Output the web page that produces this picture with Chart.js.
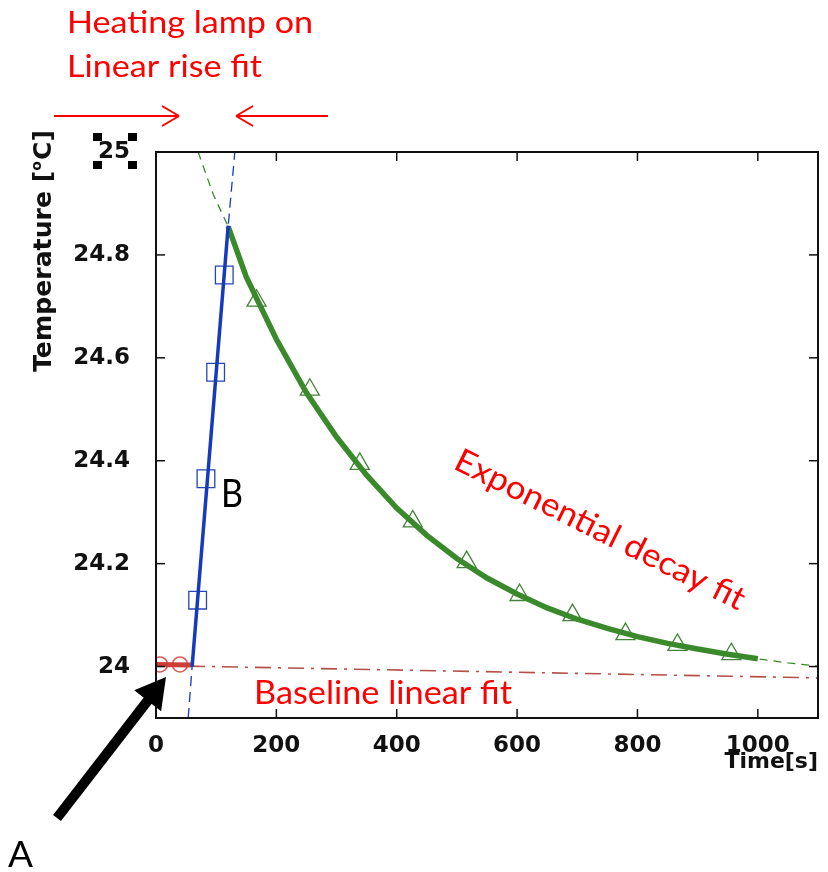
<!DOCTYPE html>
<html>
<head>
<meta charset="utf-8">
<script src="https://cdn.jsdelivr.net/npm/chart.js@4/dist/chart.umd.min.js"></script>
<style>
html,body{margin:0;padding:0;background:#fff;}
#wrap{width:828px;height:872px;position:relative;}
</style>
</head>
<body>
<div id="wrap"><canvas id="c"></canvas></div>
<script>
// ---- tick labels ----
const xTicks = [0, 200, 400, 600, 800, 1000];
const yTicks = [24, 24.2, 24.4, 24.6, 24.8, 25];

// ---- measured points ----
const baselineTime = [6.6, 39.8];
const baselineTemp = [24.004, 24.004];

const riseTime = [69.2, 83.0, 99.1, 113.4];
const riseTemp = [24.129, 24.365, 24.572, 24.761];

const decayTime = [167.1, 255.6, 338.6, 426.6, 516.2, 604.1, 692.1, 780.1, 866.4, 956.0];
const decayTemp = [24.711, 24.538, 24.394, 24.282, 24.203, 24.139, 24.100, 24.063, 24.042, 24.024];

// ---- fit lines ----
const baseFitTime = [0, 1100];
const baseFitTemp = [24.002, 23.978];
const baseSegTime = [0, 58];
const baseSegTemp = [24.004, 24.003];

const riseFitTime = [53.5, 60, 120, 131];
const riseFitTemp = [23.9, 24.0, 24.857, 25.0];
const riseSolidTime = [60, 120];
const riseSolidTemp = [24.0, 24.857];

const decayFitTime = [70, 95, 120, 150, 200, 250, 300, 350, 400, 450, 500, 550, 600, 650, 700, 750, 800, 850, 900, 950, 1000, 1050, 1100];
const decayFitTemp = [25.0, 24.918, 24.855, 24.757, 24.636, 24.532, 24.446, 24.372, 24.308, 24.255, 24.21, 24.172, 24.141, 24.114, 24.092, 24.074, 24.058, 24.045, 24.034, 24.024, 24.015, 24.007, 24.001];
const decaySolidFrom = 120, decaySolidTo = 1000;

const pts = (xs, ys) => xs.map((x, i) => ({x: x, y: ys[i]}));
const decaySolidPts = pts(decayFitTime, decayFitTemp).filter(p => p.x >= decaySolidFrom && p.x <= decaySolidTo);

const GREEN = 'rgb(58,138,44)';
const BLUE = 'rgb(22,58,190)';
const RED = '#ff0000';

function txt(ctx, s, x, yBase, width, capH, family, weight, color, angle) {
  ctx.save();
  ctx.font = `${weight} 100px ${family}`;
  const capRatio = ctx.measureText('H').actualBoundingBoxAscent / 100;
  const size = capH / capRatio;
  ctx.font = `${weight} ${size}px ${family}`;
  const w = ctx.measureText(s).width;
  ctx.translate(x, yBase);
  if (angle) ctx.rotate(angle);
  ctx.scale(width / w, 1);
  ctx.fillStyle = color;
  ctx.textAlign = 'left';
  ctx.textBaseline = 'alphabetic';
  ctx.fillText(s, 0, 0);
  ctx.restore();
}

function line(ctx, x1, y1, x2, y2) { ctx.beginPath(); ctx.moveTo(x1, y1); ctx.lineTo(x2, y2); ctx.stroke(); }

const decor = {
  id: 'decor',
  afterDraw(chart) {
    const ctx = chart.ctx, ca = chart.chartArea, xs = chart.scales.x, ys = chart.scales.y;
    ctx.save();
    // frame
    ctx.strokeStyle = '#111'; ctx.lineWidth = 2;
    ctx.strokeRect(ca.left, ca.top, ca.right - ca.left, ca.bottom - ca.top);
    // inward ticks
    ctx.lineWidth = 1.5;
    xTicks.forEach(v => { const p = xs.getPixelForValue(v); line(ctx, p, ca.bottom, p, ca.bottom - 9); line(ctx, p, ca.top, p, ca.top + 9); });
    yTicks.forEach(v => { const p = ys.getPixelForValue(v); line(ctx, ca.left, p, ca.left + 9, p); line(ctx, ca.right, p, ca.right - 9, p); });

    // selection handles around "25"
    ctx.fillStyle = '#000';
    [[93, 133], [128, 133], [93, 161], [128, 161]].forEach(([x, y]) => ctx.fillRect(x, y, 9, 8));

    // y-axis title
    ctx.save();
    ctx.translate(51, 372); ctx.rotate(-Math.PI / 2);
    const fam = '"DejaVu Sans"';
    ctx.font = `bold 25px ${fam}`;
    const a = 'Temperature [', c = 'C]';
    const wa = ctx.measureText(a).width, wc = ctx.measureText(c).width;
    ctx.font = `bold 14px ${fam}`;
    const wo = ctx.measureText('o').width;
    ctx.scale(242 / (wa + wo + wc + 1), 1);
    ctx.fillStyle = '#111'; ctx.textBaseline = 'alphabetic';
    ctx.font = `bold 25px ${fam}`; ctx.fillText(a, 0, 0);
    ctx.font = `bold 14px ${fam}`; ctx.fillText('o', wa, -10);
    ctx.font = `bold 25px ${fam}`; ctx.fillText(c, wa + wo + 1, 0);
    ctx.restore();

    // annotations
    const F = 'Lato, "Open Sans", sans-serif';
    txt(ctx, 'Heating lamp on', 67, 33, 246, 23, F, 'normal', RED);
    txt(ctx, 'Linear rise fit', 67, 77, 195, 23, F, 'normal', RED);
    txt(ctx, 'Baseline linear fit', 254, 704, 258, 24, F, 'normal', RED);
    txt(ctx, 'Exponential decay fit', 452, 468, 320, 24, F, 'normal', RED, 26.5 * Math.PI / 180);
    txt(ctx, 'B', 221, 507, 22, 28, F, 'normal', '#000');
    txt(ctx, 'A', 8, 867, 25, 27, F, 'normal', '#000');

    // red arrows
    ctx.strokeStyle = RED; ctx.lineWidth = 2;
    line(ctx, 54, 116, 179, 116); line(ctx, 179, 116, 162, 106); line(ctx, 179, 116, 162, 126);
    line(ctx, 328, 116, 236, 116); line(ctx, 236, 116, 253, 106); line(ctx, 236, 116, 253, 126);

    // black arrow A
    ctx.strokeStyle = '#000'; ctx.fillStyle = '#000'; ctx.lineWidth = 10;
    const tipX = 166, tipY = 677, tailX = 57, tailY = 818;
    const ang = Math.atan2(tipY - tailY, tipX - tailX);
    const hl = 30, hw = 17;
    const bx = tipX - hl * Math.cos(ang), by = tipY - hl * Math.sin(ang);
    line(ctx, tailX, tailY, bx + 2 * Math.cos(ang), by + 2 * Math.sin(ang));
    ctx.beginPath();
    ctx.moveTo(tipX, tipY);
    ctx.lineTo(bx + hw * Math.sin(ang), by - hw * Math.cos(ang));
    ctx.lineTo(bx - hw * Math.sin(ang), by + hw * Math.cos(ang));
    ctx.closePath(); ctx.fill();
    ctx.restore();
  }
};

const lineDs = (data, color, width, dash, order) => ({
  data, showLine: true, borderColor: color, borderWidth: width, borderDash: dash,
  pointRadius: 0, pointHoverRadius: 0, fill: false, tension: 0, order
});
const markDs = (data, color, style, r, order, bw) => ({
  data, showLine: false, pointStyle: style, pointRadius: r, pointHoverRadius: r,
  pointBorderColor: color, pointBackgroundColor: 'rgba(0,0,0,0)', pointBorderWidth: bw || 1.3, order
});

new Chart(document.getElementById('c'), {
  type: 'scatter',
  data: {
    datasets: [
      lineDs(pts(riseSolidTime, riseSolidTemp), BLUE, 3.5, [], 0),
      lineDs(decaySolidPts, GREEN, 5.5, [], 1),
      lineDs(pts(baseSegTime, baseSegTemp), 'rgb(205,60,55)', 5, [], 2),
      markDs(pts(riseTime, riseTemp), 'rgb(40,70,175)', 'rect', 12.5, 3),
      markDs(pts(decayTime, decayTemp), 'rgb(70,130,60)', 'triangle', 11, 4),
      markDs(pts(baselineTime, baselineTemp), 'rgb(215,90,90)', 'circle', 7.5, 5, 1.6),
      lineDs(pts(decayFitTime, decayFitTemp), GREEN, 1.3, [8, 6], 6),
      lineDs(pts(riseFitTime, riseFitTemp), BLUE, 1.3, [10, 6], 7),
      lineDs(pts(baseFitTime, baseFitTemp), 'rgb(180,80,70)', 1.6, [16, 7, 3, 7], 8)
    ]
  },
  options: {
    responsive: true, maintainAspectRatio: false, animation: false,
    events: [],
    layout: { autoPadding: false, padding: { left: 0, top: 152, right: 10, bottom: 97 } },
    plugins: { legend: { display: false }, tooltip: { enabled: false } },
    scales: {
      x: {
        type: 'linear', min: 0, max: 1100, offset: false,
        afterBuildTicks: s => { s.ticks = xTicks.map(v => ({ value: v })); },
        afterFit: s => { s.height = 872 - 718 - 97; },
        grid: { display: false, drawTicks: false }, border: { display: false },
        ticks: { padding: 14, color: '#111', font: { family: '"DejaVu Sans"', weight: 'bold', size: 23 }, maxRotation: 0, autoSkip: false,
                 callback: v => String(v) },
        title: { display: true, text: 'Time[s]', align: 'end', color: '#111', padding: { top: 0, bottom: 0 },
                 font: { family: '"DejaVu Sans"', weight: 'bold', size: 22 } }
      },
      y: {
        type: 'linear', min: 23.9, max: 25,
        afterBuildTicks: s => { s.ticks = yTicks.map(v => ({ value: v })); },
        afterFit: s => { s.width = 156; },
        grid: { display: false, drawTicks: false }, border: { display: false },
        ticks: { padding: 26, color: '#111', font: { family: '"DejaVu Sans"', weight: 'bold', size: 23 }, autoSkip: false,
                 callback: v => String(+(+v).toFixed(1)) }
      }
    }
  },
  plugins: [decor]
});
</script>
</body>
</html>
